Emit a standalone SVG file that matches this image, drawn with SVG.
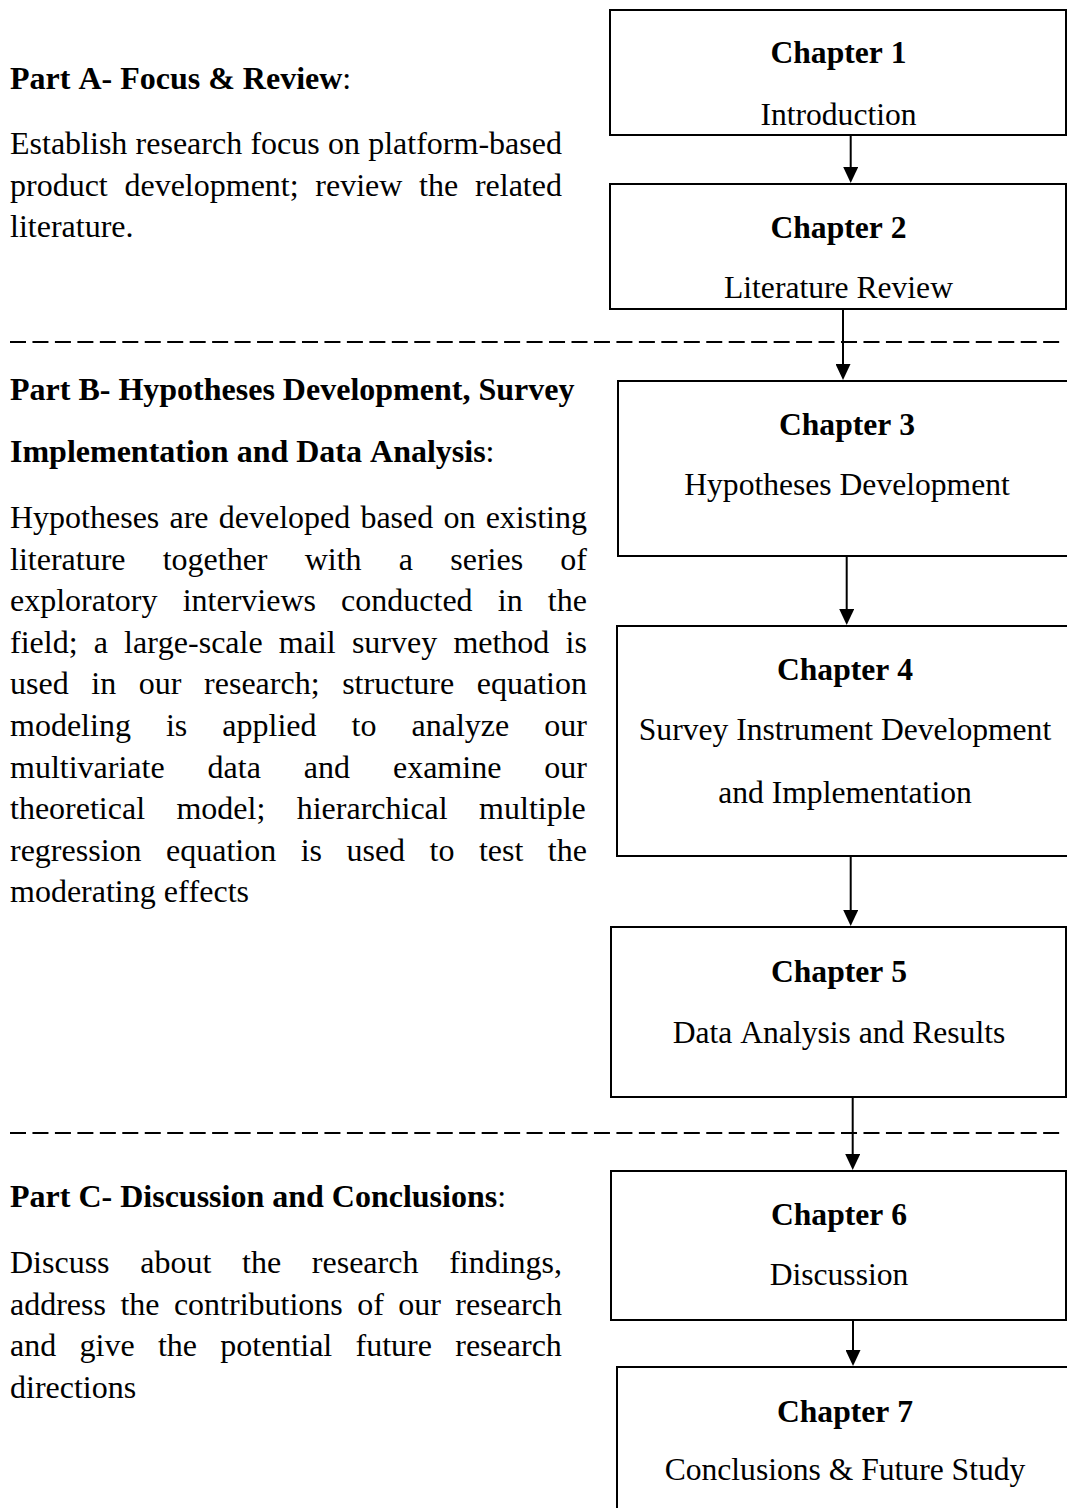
<svg xmlns="http://www.w3.org/2000/svg" width="1067" height="1508" viewBox="0 0 1067 1508">
  <style>
    text { font-family: "Liberation Serif", "Times New Roman", serif; fill: #000; font-kerning: none; }
    .body { font-size: 32px; }
    .hd { font-size: 32px; font-weight: bold; }
    .reg { font-weight: normal; }
    .node rect { fill: #fff; stroke: #000; stroke-width: 2; }
    .node text { font-size: 31.6px; text-anchor: middle; }
    .node .title { font-weight: bold; }
    .sep { stroke: #000; stroke-width: 2; stroke-dasharray: 16 6.46; fill: none; }
    .link { stroke: #000; stroke-width: 2; fill: none; marker-end: url(#arrow); }
  </style>
  <defs>
    <marker id="arrow" markerUnits="userSpaceOnUse" markerWidth="16" markerHeight="15" refX="12" refY="7.5" orient="auto">
      <path d="M0,0 L16,7.5 L0,15 z" fill="#000"/>
    </marker>
  </defs>

  <rect width="1067" height="1508" fill="#fff"/>

  <!-- section separators -->
  <g id="separators">
    <line class="sep" x1="10" y1="342" x2="1060" y2="342"/>
    <line class="sep" x1="10" y1="1133" x2="1060" y2="1133"/>
  </g>

  <!-- Part A -->
  <g id="part-a">
    <text class="hd" x="10" y="88.5">Part A- Focus &amp; Review<tspan class="reg">:</tspan></text>
    <text class="body" x="10" y="154" style="word-spacing:0.25px">Establish research focus on platform-based</text>
    <text class="body" x="10" y="195.5" style="word-spacing:8.7px">product development; review the related</text>
    <text class="body" x="10" y="237">literature.</text>
  </g>

  <!-- Part B -->
  <g id="part-b">
    <text class="hd" x="10" y="400">Part B- Hypotheses Development, Survey</text>
    <text class="hd" x="10" y="462">Implementation and Data Analysis<tspan class="reg">:</tspan></text>
    <text class="body" x="10" y="528" style="word-spacing:2.18px">Hypotheses are developed based on existing</text>
    <text class="body" x="10" y="569.6" style="word-spacing:29.2px">literature together with a series of</text>
    <text class="body" x="10" y="611.2" style="word-spacing:17.15px">exploratory interviews conducted in the</text>
    <text class="body" x="10" y="652.8" style="word-spacing:8.18px">field; a large-scale mail survey method is</text>
    <text class="body" x="10" y="694.4" style="word-spacing:14.62px">used in our research; structure equation</text>
    <text class="body" x="10" y="736" style="word-spacing:27.06px">modeling is applied to analyze our</text>
    <text class="body" x="10" y="777.6" style="word-spacing:34.95px">multivariate data and examine our</text>
    <text class="body" x="10" y="819.2" style="word-spacing:23.4px">theoretical model; hierarchical multiple</text>
    <text class="body" x="10" y="860.8" style="word-spacing:16.47px">regression equation is used to test the</text>
    <text class="body" x="10" y="902.4">moderating effects</text>
  </g>

  <!-- Part C -->
  <g id="part-c">
    <text class="hd" x="10" y="1207">Part C- Discussion and Conclusions<tspan class="reg">:</tspan></text>
    <text class="body" x="10" y="1273" style="word-spacing:22.7px">Discuss about the research findings,</text>
    <text class="body" x="10" y="1314.6" style="word-spacing:6.42px">address the contributions of our research</text>
    <text class="body" x="10" y="1356" style="word-spacing:15.3px">and give the potential future research</text>
    <text class="body" x="10" y="1397.5">directions</text>
  </g>

  <!-- chapter boxes -->
  <g id="chapter-1" class="node">
    <rect x="610" y="10" width="456" height="125"/>
    <text class="title" x="838.5" y="63">Chapter 1</text>
    <text x="838.5" y="125">Introduction</text>
  </g>
  <g id="chapter-2" class="node">
    <rect x="610" y="184" width="456" height="125"/>
    <text class="title" x="838.5" y="238">Chapter 2</text>
    <text x="838.5" y="298">Literature Review</text>
  </g>
  <g id="chapter-3" class="node">
    <rect x="618" y="381" width="460" height="175"/>
    <text class="title" x="847" y="435">Chapter 3</text>
    <text x="847" y="495">Hypotheses Development</text>
  </g>
  <g id="chapter-4" class="node">
    <rect x="617" y="626" width="460" height="230"/>
    <text class="title" x="845" y="680">Chapter 4</text>
    <text x="845" y="740">Survey Instrument Development</text>
    <text x="845" y="803">and Implementation</text>
  </g>
  <g id="chapter-5" class="node">
    <rect x="611" y="927" width="455" height="170"/>
    <text class="title" x="839" y="982">Chapter 5</text>
    <text x="839" y="1043">Data Analysis and Results</text>
  </g>
  <g id="chapter-6" class="node">
    <rect x="611" y="1171" width="455" height="149"/>
    <text class="title" x="839" y="1225">Chapter 6</text>
    <text x="839" y="1285">Discussion</text>
  </g>
  <g id="chapter-7" class="node">
    <rect x="617" y="1367" width="460" height="200"/>
    <text class="title" x="845" y="1422">Chapter 7</text>
    <text x="845" y="1480">Conclusions &amp; Future Study</text>
  </g>

  <!-- connectors -->
  <g id="connectors">
    <line class="link" x1="850.7" y1="135" x2="850.7" y2="179"/>
    <line class="link" x1="843" y1="309" x2="843" y2="376"/>
    <line class="link" x1="846.7" y1="556" x2="846.7" y2="621"/>
    <line class="link" x1="850.7" y1="856" x2="850.7" y2="922"/>
    <line class="link" x1="852.7" y1="1097" x2="852.7" y2="1166"/>
    <line class="link" x1="853" y1="1320" x2="853" y2="1362"/>
  </g>
</svg>
